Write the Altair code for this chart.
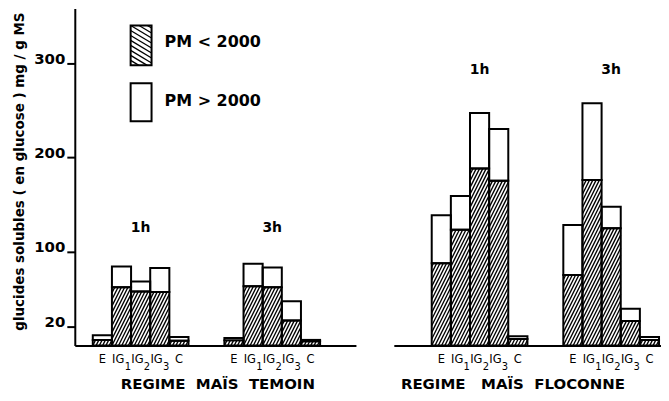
import math
import altair as alt
import pandas as pd

# ---------------- data (glucides solubles, mg / g MS) ----------------
samples = ["E", "IG", "IG", "IG", "C"]
subscripts = ["", "1", "2", "3", ""]
times = ["1h", "3h"]
regimes = ["TEMOIN", "FLOCONNE"]
panel_titles = ["REGIME\u00a0\u00a0MAÏS\u00a0\u00a0TEMOIN",
                "REGIME\u00a0\u00a0\u00a0MAÏS\u00a0\u00a0FLOCONNE"]
legend_labels = ["PM < 2000", "PM > 2000"]
y_ticks = [20, 100, 200, 300]
y_title = "glucides solubles ( en glucose ) mg / g MS"

# hatched part: PM < 2000 ; white part: PM > 2000
temoin_1h_low = [6, 62, 57.5, 57, 5]
temoin_1h_high = [5, 22, 10.5, 25.5, 4]
temoin_3h_low = [5.5, 63, 62, 26.5, 4.5]
temoin_3h_high = [2.5, 24, 21, 20.5, 1.5]
floconne_1h_low = [87.5, 123, 188, 175, 7]
floconne_1h_high = [51, 36, 59, 55, 3]
floconne_3h_low = [75, 176, 124.5, 26, 6]
floconne_3h_high = [53, 81.5, 23, 13, 3]

low = {("TEMOIN", "1h"): temoin_1h_low, ("TEMOIN", "3h"): temoin_3h_low,
       ("FLOCONNE", "1h"): floconne_1h_low, ("FLOCONNE", "3h"): floconne_3h_low}
high = {("TEMOIN", "1h"): temoin_1h_high, ("TEMOIN", "3h"): temoin_3h_high,
        ("FLOCONNE", "1h"): floconne_1h_high, ("FLOCONNE", "3h"): floconne_3h_high}

# ---------------- layout / style ----------------
FONT = "DejaVu Sans"
SLOT = 19.2          # px per bar
PLOT_H = 338
Y_MAX = 358
YPX = PLOT_H / Y_MAX
GAP = 1.875          # gap between groups, in bars
panels = [
    dict(width=282, lead=0.94, title_x=143, label_offset=38),
    dict(width=268, lead=1.98, title_x=119, label_offset=35),
]


def hatch(x0, x1, y0, y1, slope, step):
    """diagonal hatch segments inside a rectangle (data units)."""
    w = (x1 - x0) * SLOT
    h = (y1 - y0) * YPX
    segs = []
    if w <= 0 or h <= 0:
        return segs
    if slope > 0:
        cmin, cmax = -slope * w, h
    else:
        cmin, cmax = 0, h - slope * w
    c = math.ceil(cmin / step) * step
    while c < cmax:
        a = (0 - c) / slope
        b = (h - c) / slope
        lo = max(0.0, min(a, b))
        hi = min(w, max(a, b))
        if hi - lo > 0.3:
            segs.append(dict(x=x0 + lo / SLOT, y=y0 + (slope * lo + c) / YPX,
                             x2=x0 + hi / SLOT, y2=y0 + (slope * hi + c) / YPX))
        c += step
    return segs


charts = []
for p, regime in enumerate(regimes):
    cfg = panels[p]
    dom = cfg["width"] / SLOT
    rects, lines, tlabels, slabels, sublabels = [], [], [], [], []
    top = 0
    for g, t in enumerate(times):
        start = cfg["lead"] + g * (5 + GAP)
        lo_vals = low[(regime, t)]
        hi_vals = high[(regime, t)]
        for i in range(5):
            x0 = start + i
            lo, hi = lo_vals[i], hi_vals[i]
            rects.append(dict(x=x0, x2=x0 + 1, y=0, y2=lo))
            rects.append(dict(x=x0, x2=x0 + 1, y=lo, y2=lo + hi))
            lines += hatch(x0, x0 + 1, 0, lo, 2.0, 6.6)
            top = max(top, lo + hi)
            c = x0 + 0.5
            if subscripts[i]:
                slabels.append(dict(x=c - 0.17, t=samples[i]))
                sublabels.append(dict(x=c + 0.33, t=subscripts[i]))
            else:
                slabels.append(dict(x=c, t=samples[i]))
        tlabels.append(dict(x=start + 2.5, t=t))
    level = top + cfg["label_offset"]
    for d in tlabels:
        d["y"] = level

    xaxis = alt.Axis(values=[0], labels=False, ticks=False, grid=False,
                     domainColor="black", domainWidth=2,
                     title=panel_titles[p], titleFont=FONT, titleFontSize=15,
                     titleFontWeight="bold", titleColor="black",
                     titlePadding=31, titleX=cfg["title_x"], titleAnchor="start",
                     titleAlign="center")
    if p == 0:
        yaxis = alt.Axis(values=y_ticks, grid=False, domainColor="black", domainWidth=2,
                         tickColor="black", tickWidth=2, tickSize=8,
                         labelFont=FONT, labelFontSize=15, labelFontWeight="bold",
                         labelColor="black", labelPadding=2, labelBaseline="alphabetic",
                         title=y_title, titleFont=FONT, titleFontSize=13.5,
                         titleFontWeight="bold", titleColor="black",
                         titleX=-55, titleY=PLOT_H / 2 - 6, titleBaseline="middle",
                         titleAlign="center", titleAngle=270)
    else:
        yaxis = None

    X = lambda f="x": alt.X(f"{f}:Q", scale=alt.Scale(domain=[0, dom], nice=False, zero=False), axis=xaxis)
    Y = lambda f="y": alt.Y(f"{f}:Q", scale=alt.Scale(domain=[0, Y_MAX], nice=False), axis=yaxis)

    rect_df = pd.DataFrame(rects)
    fills = alt.Chart(rect_df).mark_rect(fill="white").encode(x=X(), x2="x2", y=Y(), y2="y2")
    hl = alt.Chart(pd.DataFrame(lines)).mark_rule(color="black", strokeWidth=1.35).encode(
        x=X(), x2="x2", y=Y(), y2="y2")
    outl = alt.Chart(rect_df).mark_rect(fillOpacity=0, stroke="black", strokeWidth=2).encode(
        x=X(), x2="x2", y=Y(), y2="y2")
    tl = alt.Chart(pd.DataFrame(tlabels)).mark_text(
        font=FONT, fontSize=14, fontWeight="bold", color="black").encode(
        x=X(), y=Y(), text="t:N")
    sl = alt.Chart(pd.DataFrame(slabels)).mark_text(
        font=FONT, fontSize=11.5, color="black", baseline="middle").encode(
        x=X(), y=alt.value(PLOT_H + 14), text="t:N")
    subl = alt.Chart(pd.DataFrame(sublabels)).mark_text(
        font=FONT, fontSize=10, color="black", baseline="middle").encode(
        x=X(), y=alt.value(PLOT_H + 22), text="t:N")
    layers = [fills, hl, outl, tl, sl, subl]

    if p == 0:
        # legend, drawn inside the left panel
        boxes = [dict(x=2.917, x2=4.01, y=297.7, y2=340.0),
                 dict(x=2.917, x2=4.01, y=238.3, y2=278.6)]
        lg_text = [dict(x=4.69, y=322, t=legend_labels[0]),
                   dict(x=4.69, y=259.5, t=legend_labels[1])]
        b = boxes[0]
        lg_lines = hatch(b["x"], b["x2"], b["y"], b["y2"], -0.6, 5.0)
        bdf = pd.DataFrame(boxes)
        layers += [
            alt.Chart(bdf).mark_rect(fill="white").encode(x=X(), x2="x2", y=Y(), y2="y2"),
            alt.Chart(pd.DataFrame(lg_lines)).mark_rule(color="black", strokeWidth=1.3).encode(
                x=X(), x2="x2", y=Y(), y2="y2"),
            alt.Chart(bdf).mark_rect(fillOpacity=0, stroke="black", strokeWidth=2).encode(
                x=X(), x2="x2", y=Y(), y2="y2"),
            alt.Chart(pd.DataFrame(lg_text)).mark_text(
                font=FONT, fontSize=16, fontWeight="bold", color="black",
                align="left", baseline="middle").encode(x=X(), y=Y(), text="t:N"),
        ]
    charts.append(alt.layer(*layers).properties(width=cfg["width"], height=PLOT_H))

chart = alt.hconcat(*charts, spacing=38).properties(
    padding={"left": 4, "top": 0, "right": 0, "bottom": 0},
    background="white",
).configure_view(stroke=None)

chart.save("out.html", embed_options={"renderer": "svg", "actions": False})
